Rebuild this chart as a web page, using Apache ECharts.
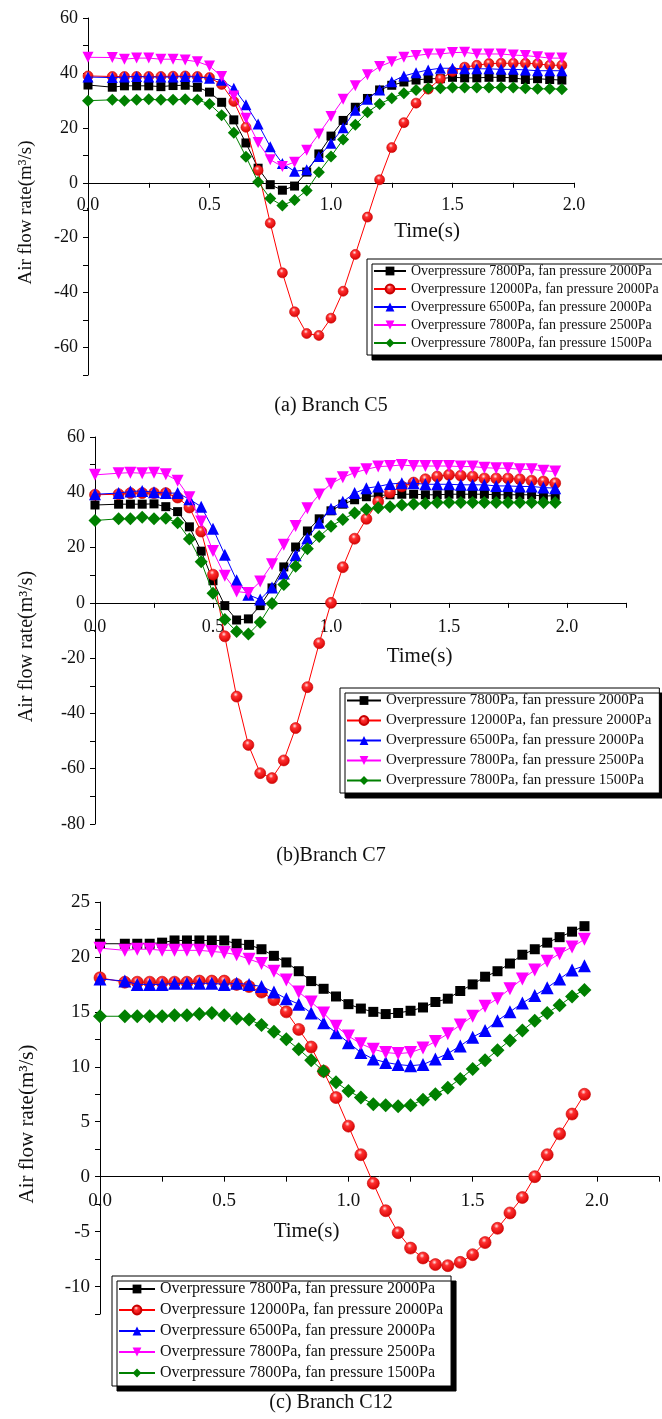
<!DOCTYPE html>
<html>
<head>
<meta charset="utf-8">
<script src="https://cdn.jsdelivr.net/npm/echarts@6/dist/echarts.min.js"></script>
<style>
    html, body { margin: 0; padding: 0; background: #fff; }
    #chart { width: 662px; height: 1419px; }
</style>
</head>
<body>
<div id="chart"></div>
<script>
// sample times (s) shared by all three branches
const times = [0, 0.1, 0.15, 0.2, 0.25, 0.3, 0.35, 0.4, 0.45, 0.5,
    0.55, 0.6, 0.65, 0.7, 0.75, 0.8, 0.85, 0.9, 0.95, 1.0,
    1.05, 1.1, 1.15, 1.2, 1.25, 1.3, 1.35, 1.4, 1.45, 1.5,
    1.55, 1.6, 1.65, 1.7, 1.75, 1.8, 1.85, 1.9, 1.95]

const seriesNames = [
    "Overpressure 7800Pa, fan pressure 2000Pa",
    "Overpressure 12000Pa, fan pressure 2000Pa",
    "Overpressure 6500Pa, fan pressure 2000Pa",
    "Overpressure 7800Pa, fan pressure 2500Pa",
    "Overpressure 7800Pa, fan pressure 1500Pa",
]

const captions = ["(a) Branch C5", "(b)Branch C7", "(c) Branch C12"]

// Branch C5
const c5Black = [35.6, 34.8, 35.3, 35.3, 35.3, 35.0, 35.4, 35.5, 34.8, 33.0,
    29.3, 22.9, 14.5, 5.3, -0.7, -2.7, -1.2, 3.9, 10.5, 17.0,
    22.7, 27.5, 30.7, 33.8, 35.5, 36.7, 37.4, 37.9, 37.9, 38.4,
    38.2, 38.2, 38.4, 38.4, 38.2, 37.6, 37.9, 37.6, 37.4]
const c5Red = [38.9, 38.7, 38.7, 38.7, 38.7, 38.7, 38.8, 38.9, 38.7, 38.3,
    35.8, 29.6, 20.2, 4.5, -14.7, -32.8, -47.0, -54.9, -55.6, -49.3,
    -39.5, -26.1, -12.5, 1.1, 12.8, 21.9, 29.0, 34.1, 37.8, 40.5,
    42.1, 42.8, 43.4, 43.5, 43.5, 43.5, 43.3, 42.8, 42.8]
const c5Blue = [38.5, 38.3, 38.5, 38.7, 38.5, 38.5, 38.5, 38.7, 38.5, 38.1,
    37.3, 34.4, 28.4, 21.4, 13.1, 7.0, 4.2, 4.7, 9.6, 14.4,
    20.0, 26.4, 30.4, 33.8, 36.8, 38.9, 40.1, 41.1, 41.7, 41.7,
    41.5, 41.5, 41.5, 41.3, 41.3, 41.1, 40.8, 40.8, 40.8]
const c5Magenta = [45.7, 45.6, 45.0, 45.4, 45.4, 45.0, 45.0, 44.7, 44.1, 42.5,
    38.7, 31.6, 23.5, 14.7, 8.4, 5.9, 7.5, 11.8, 17.8, 24.1,
    30.4, 35.3, 39.3, 42.3, 44.1, 45.7, 46.3, 46.9, 46.9, 47.4,
    47.5, 46.9, 46.9, 46.9, 46.5, 46.3, 45.9, 45.4, 45.4]
const c5Green = [29.9, 30.2, 29.9, 30.2, 30.4, 30.2, 30.2, 30.4, 30.2, 28.7,
    24.6, 18.2, 9.5, 0.3, -5.7, -8.3, -6.3, -2.8, 3.8, 9.6,
    15.8, 21.1, 25.7, 28.7, 30.8, 32.6, 33.8, 34.4, 34.4, 34.7,
    34.7, 34.7, 34.7, 34.7, 34.7, 34.4, 34.2, 34.2, 34.1]

// Branch C7
const c7Black = [35.4, 35.7, 35.7, 35.7, 35.8, 34.8, 33.0, 27.5, 18.7, 8.0,
    -1.0, -6.2, -5.8, -1.0, 5.4, 13.0, 20.2, 26.0, 30.4, 33.3,
    35.7, 37.3, 38.4, 38.8, 39.1, 39.3, 39.3, 39.1, 39.1, 39.3,
    39.3, 39.3, 39.3, 39.1, 39.1, 39.1, 39.1, 38.6, 38.8]
const c7Red = [39.1, 39.3, 39.7, 39.7, 39.7, 39.7, 38.1, 34.5, 25.8, 10.2,
    -12.1, -33.9, -51.4, -61.6, -63.4, -57.0, -45.3, -30.5, -14.6, 0.0,
    12.9, 23.2, 30.4, 36.6, 39.9, 42.1, 43.5, 44.7, 45.7, 46.3,
    46.0, 45.7, 45.0, 45.0, 45.0, 44.7, 44.2, 43.9, 43.3]
const c7Blue = [39.3, 39.7, 40.3, 40.5, 40.0, 39.7, 39.7, 37.5, 34.8, 26.8,
    17.4, 8.2, 2.9, 1.2, 5.6, 10.6, 17.2, 23.4, 29.0, 34.0,
    36.6, 39.7, 41.5, 42.1, 43.0, 43.3, 43.3, 42.9, 42.9, 42.9,
    42.7, 42.7, 42.7, 42.3, 42.3, 42.1, 42.1, 41.7, 41.5]
const c7Magenta = [46.3, 46.9, 47.1, 46.9, 47.1, 46.5, 44.2, 38.2, 29.4, 18.8,
    9.8, 4.1, 3.6, 7.7, 14.0, 21.0, 27.8, 34.2, 39.2, 43.1,
    45.4, 47.1, 48.3, 49.3, 49.5, 49.9, 49.5, 49.5, 49.5, 49.5,
    49.3, 49.3, 48.9, 48.7, 48.7, 48.3, 48.3, 47.8, 47.5]
const c7Green = [29.8, 30.4, 30.4, 31.0, 30.4, 30.6, 29.0, 23.1, 14.9, 3.5,
    -6.0, -10.4, -11.3, -7.0, -0.2, 6.6, 13.2, 19.6, 24.0, 27.7,
    30.2, 32.5, 33.9, 34.4, 34.8, 35.4, 35.8, 36.0, 36.3, 36.3,
    36.3, 36.3, 36.3, 36.3, 36.3, 36.3, 36.3, 36.3, 36.3]

// Branch C12
const c12Black = [21.2, 21.2, 21.2, 21.2, 21.3, 21.5, 21.5, 21.5, 21.5, 21.5,
    21.2, 21.1, 20.7, 20.1, 19.5, 18.7, 17.8, 17.1, 16.4, 15.7,
    15.3, 15.0, 14.8, 14.9, 15.1, 15.4, 15.9, 16.2, 16.9, 17.5,
    18.2, 18.7, 19.4, 20.2, 20.7, 21.3, 21.8, 22.3, 22.8]
const c12Red = [18.1, 17.7, 17.7, 17.7, 17.7, 17.7, 17.7, 17.8, 17.8, 17.8,
    17.5, 17.3, 16.8, 16.1, 15.0, 13.4, 11.8, 9.6, 7.2, 4.6,
    2.0, -0.6, -3.1, -5.1, -6.5, -7.4, -8.0, -8.1, -7.8, -7.1,
    -6.0, -4.7, -3.3, -1.9, 0.0, 2.0, 3.9, 5.7, 7.5]
const c12Blue = [18.0, 17.8, 17.5, 17.5, 17.5, 17.6, 17.6, 17.6, 17.6, 17.5,
    17.6, 17.5, 17.3, 16.8, 16.2, 15.7, 14.9, 14.0, 13.1, 12.2,
    11.3, 10.7, 10.4, 10.2, 10.1, 10.2, 10.7, 11.2, 11.9, 12.7,
    13.3, 14.2, 15.0, 15.8, 16.5, 17.2, 18.0, 18.8, 19.2]
const c12Magenta = [20.8, 20.6, 20.7, 20.7, 20.6, 20.6, 20.6, 20.6, 20.5, 20.4,
    20.2, 19.8, 19.4, 18.7, 17.9, 16.8, 15.9, 14.9, 13.7, 12.8,
    12.1, 11.6, 11.3, 11.2, 11.3, 11.7, 12.3, 13.0, 13.8, 14.6,
    15.5, 16.2, 17.1, 18.0, 18.8, 19.6, 20.3, 20.9, 21.6]
const c12Green = [14.6, 14.6, 14.6, 14.6, 14.6, 14.7, 14.7, 14.8, 14.9, 14.7,
    14.4, 14.3, 13.8, 13.2, 12.5, 11.6, 10.6, 9.6, 8.6, 7.8,
    7.2, 6.6, 6.5, 6.4, 6.5, 7.0, 7.5, 8.1, 8.9, 9.8,
    10.6, 11.5, 12.4, 13.3, 14.2, 14.9, 15.6, 16.4, 17.0]

const panelValues = [
    [c5Black, c5Red, c5Blue, c5Magenta, c5Green],
    [c7Black, c7Red, c7Blue, c7Magenta, c7Green],
    [c12Black, c12Red, c12Blue, c12Magenta, c12Green],
]

const serif = "Liberation Serif"

const sphere = new echarts.graphic.RadialGradient(0.42, 0.32, 0.7, [
    { offset: 0, color: "#ffe6e6" },
    { offset: 0.28, color: "#ff3030" },
    { offset: 1, color: "#d40000" },
])

const curveStyles = [
    { color: "#000000", symbol: "rect", size: 9 },
    { color: "#ff0000", symbol: "circle", size: 10, fill: sphere },
    { color: "#0000ff", symbol: "triangle", size: 11 },
    { color: "#ff00ff", symbol: "triangle", size: 11, rotate: 180 },
    { color: "#008000", symbol: "diamond", size: 12 },
]

// layout of the three stacked panels
const panels = [
    {
        grid: { left: 88, top: 18, width: 486, height: 357 },
        x: { max: 2.0 },
        y: { min: -70, max: 60, interval: 10, major: 20 },
        scale: 1,
        xName: { gap: 38, shift: 192 },
        yName: { gap: 52, size: 19 },
        legend: { left: 367, top: 259, fontSize: 14, itemGap: 4, itemWidth: 32 },
        caption: 396,
        labelSize: 18,
        xMargin: 13,
    },
    {
        grid: { left: 95, top: 437, width: 531, height: 387 },
        x: { max: 2.25 },
        y: { min: -80, max: 60, interval: 10, major: 20 },
        scale: 1.05,
        xName: { gap: 43, shift: 118 },
        yName: { gap: 58, size: 20 },
        legend: { left: 340, top: 688, fontSize: 15, itemGap: 5, itemWidth: 34 },
        caption: 846,
        labelSize: 18,
        xMargin: 15,
    },
    {
        grid: { left: 100, top: 902, width: 562, height: 412 },
        x: { max: 2.25 },
        y: { min: -12.5, max: 25, interval: 2.5, major: 5 },
        scale: 1.15,
        xName: { gap: 44, shift: -146 },
        yName: { gap: 62, size: 21 },
        legend: { left: 112, top: 1276, fontSize: 16, itemGap: 5, itemWidth: 36 },
        caption: 1393,
        labelSize: 19,
        xMargin: 15,
    },
]

const isMultiple = (v, step) => Math.abs(v / step - Math.round(v / step)) < 1e-6

const grids = []
const xAxes = []
const yAxes = []
const legends = []
const titles = []
const series = []

panels.forEach((p, i) => {
    grids.push(Object.assign({ containLabel: false }, p.grid))

    // the time axis crosses the plot at zero flow
    const zeroOffset = -p.grid.height * (0 - p.y.min) / (p.y.max - p.y.min)

    xAxes.push({
        gridIndex: i,
        type: "value",
        position: "bottom",
        offset: zeroOffset,
        min: 0,
        max: p.x.max,
        interval: 0.25,
        name: "Time(s)",
        nameLocation: "middle",
        nameGap: p.xName.gap,
        nameTextStyle: {
            fontFamily: serif,
            fontSize: 21,
            color: "#111",
            padding: p.xName.shift > 0 ? [0, 0, 0, p.xName.shift] : [0, -p.xName.shift, 0, 0],
        },
        splitLine: { show: false },
        axisLine: { onZero: false, lineStyle: { color: "#000", width: 1 } },
        axisTick: { length: 5, lineStyle: { color: "#000" } },
        axisLabel: {
            fontFamily: serif,
            fontSize: p.labelSize,
            color: "#111",
            margin: p.xMargin,
            showMaxLabel: true,
            formatter: (v) => (isMultiple(v, 0.5) ? v.toFixed(1) : ""),
        },
    })

    yAxes.push({
        gridIndex: i,
        type: "value",
        min: p.y.min,
        max: p.y.max,
        interval: p.y.interval,
        name: "Air flow rate(m³/s)",
        nameLocation: "middle",
        nameRotate: 90,
        nameGap: p.yName.gap,
        nameTextStyle: {
            fontFamily: serif,
            fontSize: p.yName.size,
            color: "#111",
            padding: [0, 32, 0, 0],
        },
        splitLine: { show: false },
        axisLine: { onZero: false, lineStyle: { color: "#000", width: 1 } },
        axisTick: { length: 5, lineStyle: { color: "#000" } },
        axisLabel: {
            fontFamily: serif,
            fontSize: p.labelSize,
            color: "#111",
            margin: 10,
            formatter: (v) => (isMultiple(v, p.y.major) ? String(v) : ""),
        },
    })

    legends.push({
        orient: "vertical",
        left: p.legend.left,
        top: p.legend.top,
        data: seriesNames,
        itemWidth: p.legend.itemWidth,
        itemHeight: 11,
        itemGap: p.legend.itemGap,
        padding: [5, 8, 5, 6],
        backgroundColor: "#fff",
        borderColor: "#000",
        borderWidth: 1,
        borderRadius: 0,
        shadowColor: "#000",
        shadowBlur: 0,
        shadowOffsetX: 5,
        shadowOffsetY: 5,
        selectedMode: false,
        textStyle: {
            fontFamily: serif,
            fontSize: p.legend.fontSize,
            color: "#111",
        },
    })

    titles.push({
        text: captions[i],
        left: "center",
        top: p.caption,
        padding: 0,
        textStyle: {
            fontFamily: serif,
            fontSize: 20,
            fontWeight: "normal",
            color: "#111",
        },
    })

    panelValues[i].forEach((values, k) => {
        const st = curveStyles[k]
        series.push({
            name: seriesNames[k],
            type: "line",
            xAxisIndex: i,
            yAxisIndex: i,
            data: times.map((t, j) => [t, values[j]]),
            symbol: st.symbol,
            symbolSize: Math.round(st.size * p.scale),
            symbolRotate: st.rotate || 0,
            showAllSymbol: true,
            animation: false,
            lineStyle: { color: st.color, width: 1 },
            itemStyle: {
                color: st.fill || st.color,
                borderColor: st.fill ? "#c80000" : st.color,
                borderWidth: st.fill ? 0.6 : 0,
            },
            z: 2 + k,
        })
    })
})

const chart = echarts.init(document.getElementById("chart"), null, { renderer: "canvas" })
chart.setOption({
    backgroundColor: "#fff",
    animation: false,
    title: titles,
    grid: grids,
    xAxis: xAxes,
    yAxis: yAxes,
    legend: legends,
    series: series,
})
</script>
</body>
</html>
